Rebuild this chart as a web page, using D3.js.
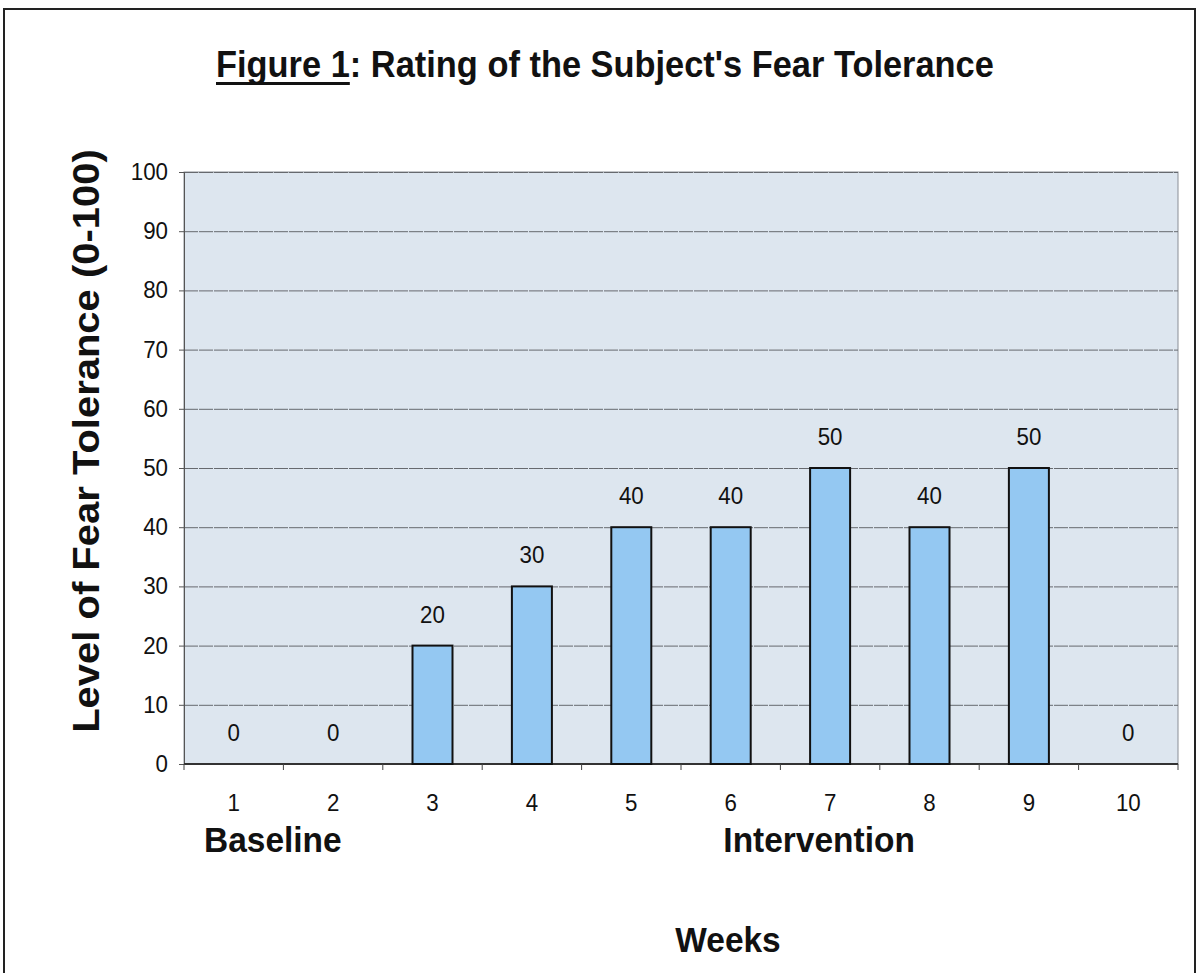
<!DOCTYPE html>
<html>
<head>
<meta charset="utf-8">
<script src="https://cdn.jsdelivr.net/npm/d3@7"></script>
<style>
  body { margin: 0; background: #fff; }
  svg text { font-family: "Liberation Sans", Arial, sans-serif; fill: #111; }
</style>
</head>
<body>
<div id="chart"></div>
<script>
// chart data
const weeks = ["1", "2", "3", "4", "5", "6", "7", "8", "9", "10"];
const ratings = [0, 0, 20, 30, 40, 40, 50, 40, 50, 0];
const yTicks = [0, 10, 20, 30, 40, 50, 60, 70, 80, 90, 100];
const phaseLabels = ["Baseline", "Intervention"];
const phaseWeeks = ["1", "7"];

const W = 1198, H = 973;
const plot = { left: 184, right: 1178, top: 172, bottom: 764 };
const sx = 0.93; // scan is slightly squeezed horizontally

const svg = d3.select("#chart").append("svg")
  .attr("width", W).attr("height", H);

// outer frame
svg.append("rect")
  .attr("x", 4).attr("y", 9)
  .attr("width", 1191).attr("height", 970)
  .attr("fill", "none").attr("stroke", "#222").attr("stroke-width", 2);

const x = d3.scaleBand().domain(weeks).range([plot.left, plot.right]).paddingInner(0).paddingOuter(0);
const y = d3.scaleLinear().domain([0, 100]).range([plot.bottom, plot.top]);

// squeezed text helper
function label(txt, px, py, size, opts) {
  opts = opts || {};
  return svg.append("text")
    .attr("transform", `translate(${px},${py}) scale(${sx},1)` + (opts.rotate ? ` rotate(${opts.rotate})` : ""))
    .attr("text-anchor", opts.anchor || "middle")
    .style("font-size", size + "px")
    .style("font-weight", opts.bold ? "bold" : "normal")
    .text(txt);
}

// plot area
svg.append("rect")
  .attr("x", plot.left).attr("y", plot.top)
  .attr("width", plot.right - plot.left).attr("height", plot.bottom - plot.top)
  .attr("fill", "#dde6ef").attr("stroke", "#8a8f96").attr("stroke-width", 1);

// gridlines
svg.append("g").selectAll("line")
  .data(yTicks.filter(d => d > 0))
  .enter().append("line")
  .attr("x1", plot.left).attr("x2", plot.right)
  .attr("y1", d => y(d) + 0.5).attr("y2", d => y(d) + 0.5)
  .attr("stroke", "#66696e").attr("stroke-width", 1)
  .attr("stroke-dasharray", "14,1");

// y axis
const yAxis = svg.append("g")
  .attr("transform", `translate(${plot.left},0)`)
  .call(d3.axisLeft(y).tickValues(yTicks).tickSize(5).tickPadding(6));
yAxis.select(".domain").attr("stroke", "#555");
yAxis.selectAll(".tick line").attr("stroke", "#555");
yAxis.selectAll(".tick text").remove();
yTicks.forEach(v => label(String(v), plot.left - 16, y(v) + 8, 24, { anchor: "end" }));

// x axis: ticks at band edges
const xAxisG = svg.append("g");
xAxisG.append("line")
  .attr("x1", plot.left).attr("x2", plot.right)
  .attr("y1", plot.bottom).attr("y2", plot.bottom)
  .attr("stroke", "#333").attr("stroke-width", 2);
xAxisG.selectAll("line.tk")
  .data(weeks.concat(["end"]))
  .enter().append("line").attr("class", "tk")
  .attr("x1", d => d === "end" ? plot.right : x(d))
  .attr("x2", d => d === "end" ? plot.right : x(d))
  .attr("y1", plot.bottom).attr("y2", plot.bottom + 6)
  .attr("stroke", "#444").attr("stroke-width", 1);
weeks.forEach(w => label(w, x(w) + x.bandwidth() / 2, 811, 24));

// bars
const barW = 40;
svg.append("g").selectAll("rect")
  .data(ratings.map((v, i) => ({ week: weeks[i], v })))
  .enter().append("rect")
  .filter(d => d.v > 0)
  .attr("x", d => x(d.week) + x.bandwidth() / 2 - barW / 2)
  .attr("y", d => y(d.v))
  .attr("width", barW)
  .attr("height", d => y(0) - y(d.v))
  .attr("fill", "#94c8f2")
  .attr("stroke", "#111").attr("stroke-width", 2);

// value labels
ratings.forEach((v, i) => label(String(v), x(weeks[i]) + x.bandwidth() / 2, y(v) - 23, 24));

// phase labels
label(phaseLabels[0], x(phaseWeeks[0]) + 20, 852, 36, { bold: true, anchor: "start" });
label(phaseLabels[1], x(phaseWeeks[1]) + x.bandwidth() / 2 - 11, 852, 36, { bold: true });

// axis titles
label("Weeks", 728, 952, 36, { bold: true });
label("Level of Fear Tolerance (0-100)", 99, 441, 40, { bold: true, rotate: -90 });

// title with underlined "Figure 1"
const title = svg.append("text")
  .attr("transform", `translate(216,77) scale(${sx},1)`)
  .attr("text-anchor", "start")
  .style("font-size", "37px")
  .style("font-weight", "bold");
const fig = title.append("tspan").text("Figure 1");
title.append("tspan").text(": Rating of the Subject's Fear Tolerance");
const figW = fig.node().getComputedTextLength() * sx;
svg.append("line")
  .attr("x1", 216).attr("x2", 216 + figW)
  .attr("y1", 83.5).attr("y2", 83.5)
  .attr("stroke", "#111").attr("stroke-width", 3);
</script>
</body>
</html>
